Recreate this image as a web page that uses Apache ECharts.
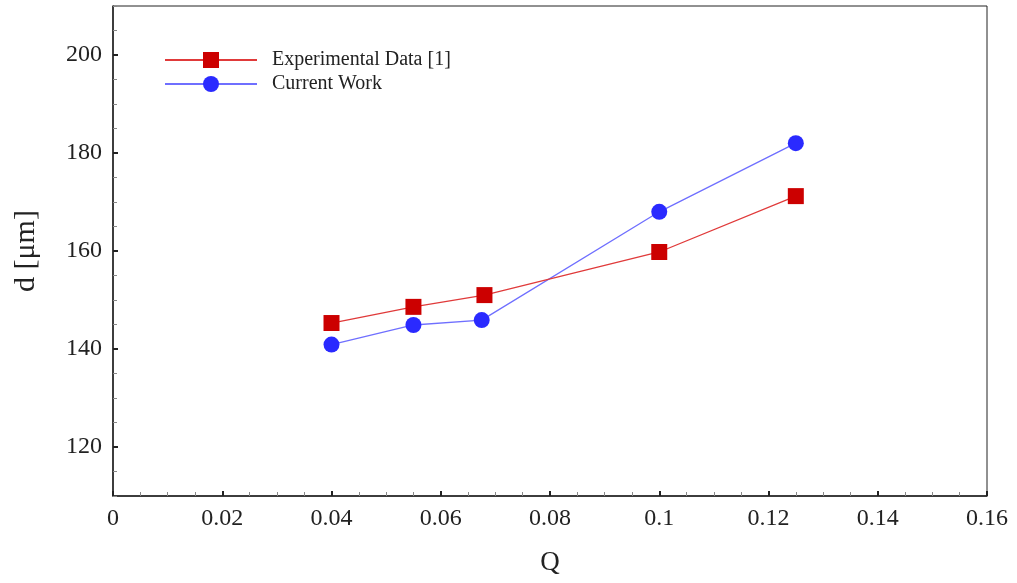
<!DOCTYPE html>
<html>
<head>
    <meta charset="UTF-8">
    <title>d vs Q</title>
    <script src="https://cdn.jsdelivr.net/npm/echarts@6/dist/echarts.min.js"></script>
    <style>
        html, body { margin: 0; padding: 0; background: #fff; }
        #chart { width: 1017px; height: 583px; }
    </style>
</head>
<body>
<div id="chart"></div>
<script type="text/javascript">
    // data
    let qExp = [0.04, 0.055, 0.068, 0.1, 0.125];
    let dExp = [145.3, 148.6, 151.0, 159.8, 171.2];
    let qCur = [0.04, 0.055, 0.0675, 0.1, 0.125];
    let dCur = [140.9, 144.9, 145.9, 168.0, 182.0];

    // major y ticks / labels
    let yTicks = [120, 140, 160, 180, 200];

    let serif = '"Liberation Serif", "DejaVu Serif", serif';

    function pairs(xs, ys) {
        return xs.map(function (x, i) { return [x, ys[i]]; });
    }

    let chart = echarts.init(document.getElementById('chart'));

    let option = {
        animation: false,
        textStyle: { fontFamily: serif },
        grid: { left: 113, right: 30, top: 6, bottom: 87, show: true, borderColor: '#222', borderWidth: 1 },
        legend: {
            orient: 'vertical',
            left: 159,
            top: 45,
            itemWidth: 92,
            itemHeight: 20,
            itemGap: 4,
            textStyle: { fontFamily: serif, fontSize: 20, color: '#222', padding: [0, 0, 0, 10] },
            data: ['Experimental Data [1]', 'Current Work']
        },
        xAxis: {
            type: 'value',
            min: 0, max: 0.16, interval: 0.02,
            name: 'Q',
            nameLocation: 'middle',
            nameGap: 53,
            nameTextStyle: { fontFamily: serif, fontSize: 27, color: '#222' },
            axisLine: { show: true, onZero: false, lineStyle: { color: '#222', width: 1.5 } },
            axisTick: { inside: true, length: 5, lineStyle: { color: '#222', width: 2 } },
            minorTick: { show: true, splitNumber: 4, length: 4, lineStyle: { color: '#888', width: 1 } },
            splitLine: { show: false },
            axisLabel: {
                fontFamily: serif, fontSize: 24, color: '#222', margin: 11,
                formatter: function (v) { return v === 0 ? '0' : String(+v.toFixed(2)); }
            }
        },
        yAxis: [
            {
                // minor ticks every 5
                type: 'value',
                min: 110, max: 210, interval: 5,
                position: 'left',
                name: 'd [μm]',
                nameLocation: 'middle',
                nameGap: 72,
                nameRotate: 90,
                nameTextStyle: { fontFamily: serif, fontSize: 30, color: '#222' },
                axisLine: { show: true, onZero: false, lineStyle: { color: '#222', width: 1.5 } },
                axisTick: { inside: true, length: 4, lineStyle: { color: '#888', width: 1 } },
                splitLine: { show: false },
                axisLabel: { show: false }
            },
            {
                // major ticks and labels
                type: 'value',
                min: 110, max: 210, interval: 5,
                position: 'left',
                axisLine: { show: false },
                axisTick: { inside: true, length: 5, customValues: yTicks, lineStyle: { color: '#222', width: 2 } },
                splitLine: { show: false },
                axisLabel: {
                    fontFamily: serif, fontSize: 24, color: '#222', margin: 11,
                    customValues: yTicks
                }
            }
        ],
        series: [
            {
                name: 'Experimental Data [1]',
                type: 'line',
                data: pairs(qExp, dExp),
                symbol: 'rect',
                symbolSize: 16,
                itemStyle: { color: '#cc0000' },
                lineStyle: { color: '#e03a3a', width: 1.3 },
                z: 3
            },
            {
                name: 'Current Work',
                type: 'line',
                data: pairs(qCur, dCur),
                symbol: 'circle',
                symbolSize: 16,
                itemStyle: { color: '#2a2aff' },
                lineStyle: { color: '#6f6fff', width: 1.3 },
                z: 2
            }
        ]
    };

    chart.setOption(option);
</script>
</body>
</html>
